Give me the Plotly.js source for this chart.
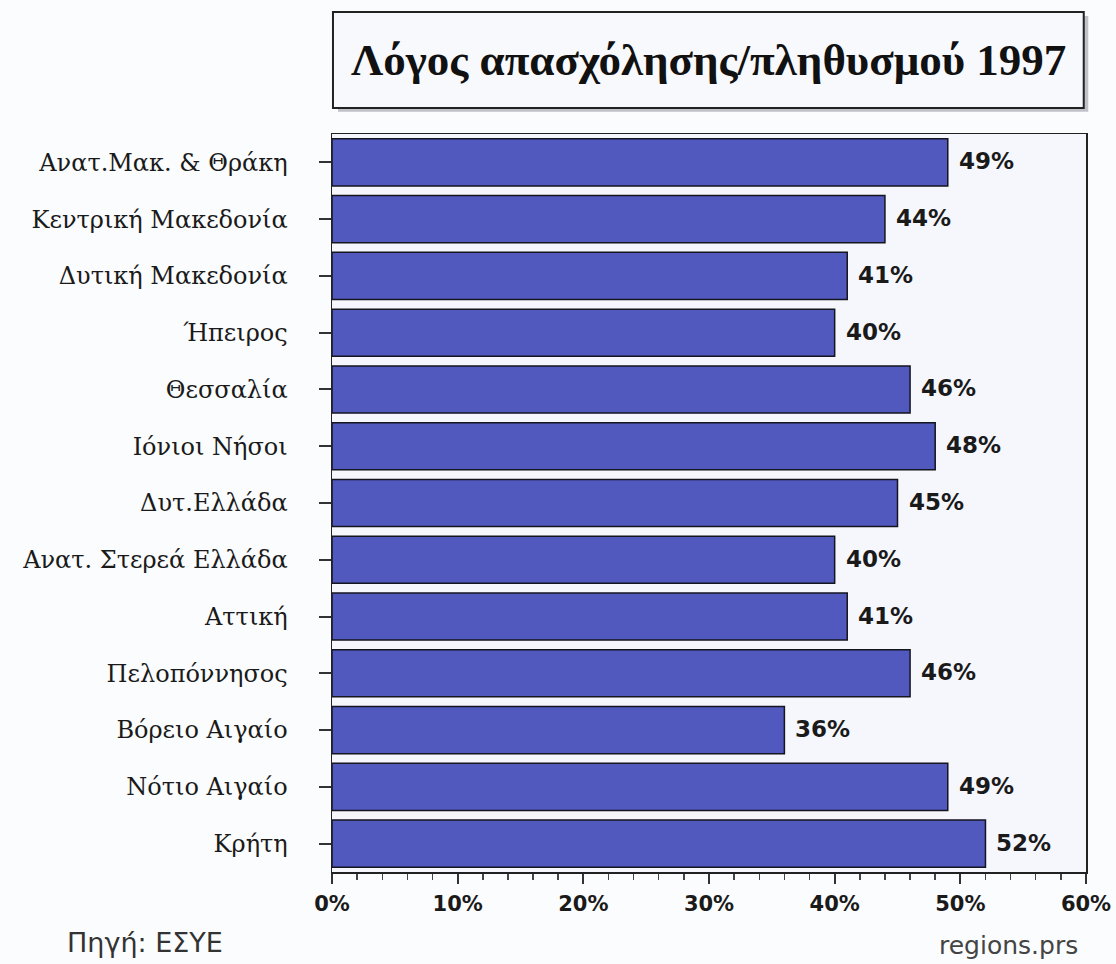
<!DOCTYPE html>
<html>
<head>
<meta charset="utf-8">
<script src="https://cdn.plot.ly/plotly-3.0.1.min.js"></script>
<style>html,body{margin:0;padding:0;background:#fbfcfd;}#chart{width:1116px;height:964px;}</style>
</head>
<body>
<div id="chart"></div>
<script>
const chartTitle = "Λόγος απασχόλησης/πληθυσμού 1997";
const regions = ["Ανατ.Μακ. & Θράκη", "Κεντρική Μακεδονία", "Δυτική Μακεδονία", "Ήπειρος", "Θεσσαλία", "Ιόνιοι Νήσοι", "Δυτ.Ελλάδα", "Ανατ. Στερεά Ελλάδα", "Αττική", "Πελοπόννησος", "Βόρειο Αιγαίο", "Νότιο Αιγαίο", "Κρήτη"];
const ratios = [49, 44, 41, 40, 46, 48, 45, 40, 41, 46, 36, 49, 52];
const xTickVals = [0, 10, 20, 30, 40, 50, 60];
const xTickText = ["0%", "10%", "20%", "30%", "40%", "50%", "60%"];
const sourceText = "Πηγή: ΕΣΥΕ";
const fileText = "regions.prs";

const trace = {
  type: "bar",
  orientation: "h",
  y: regions,
  x: ratios,
  marker: {color: "#5159bf", line: {color: "#15151f", width: 1.5}},
  hoverinfo: "skip"
};

const valueLabels = ratios.map((v, i) => ({
  x: v, y: regions[i], xref: "x", yref: "y",
  text: v + "%", showarrow: false, xanchor: "left", yanchor: "middle", xshift: 9, yshift: 1,
  font: {family: "DejaVu Sans", size: 23, color: "#1a1a1a", weight: "bold"}
}));

const layout = {
  width: 1116, height: 964,
  margin: {l: 332, r: 30, t: 134, b: 92},
  paper_bgcolor: "#fbfcfd",
  plot_bgcolor: "#f6f7fd",
  showlegend: false,
  bargap: 0.17,
  xaxis: {
    range: [0, 60], tickvals: xTickVals, ticktext: xTickText,
    showgrid: false, zeroline: false,
    showline: true, linecolor: "#222", linewidth: 1.5, mirror: true,
    ticks: "outside", ticklen: 10, tickwidth: 2, tickcolor: "#333",
    minor: {dtick: 2, ticks: "outside", ticklen: 6, tickwidth: 1.5, tickcolor: "#444"},
    ticklabelstandoff: 2,
    tickfont: {family: "DejaVu Sans", size: 21, color: "#1a1a1a", weight: "bold"},
    fixedrange: true
  },
  yaxis: {
    type: "category", autorange: "reversed",
    showgrid: false, zeroline: false,
    showline: true, linecolor: "#222", linewidth: 1.5, mirror: true,
    ticks: "outside", ticklen: 12, tickwidth: 2, tickcolor: "#333",
    ticklabelstandoff: 26,
    tickfont: {family: "DejaVu Serif", size: 24, color: "#1a1a1a"},
    fixedrange: true
  },
  shapes: [
    {type: "rect", xref: "paper", yref: "paper", x0: 0.008, x1: 1.003, y0: 1.0300, y1: 1.1600,
     fillcolor: "#bfc2c8", line: {width: 0}, layer: "below"},
    {type: "rect", xref: "paper", yref: "paper", x0: 0.0013, x1: 0.997, y0: 1.0352, y1: 1.1653,
     fillcolor: "#f8f9fd", line: {color: "#222", width: 2}, layer: "below"}
  ],
  annotations: [
    {text: chartTitle, xref: "paper", yref: "paper", x: 0.4993, y: 1.1003, xanchor: "center", yanchor: "middle",
     showarrow: false, font: {family: "Liberation Serif", size: 45, color: "#111", weight: "bold"}},
    {text: sourceText, xref: "paper", yref: "paper", x: -0.354, y: -0.0962, xanchor: "left", yanchor: "middle",
     showarrow: false, font: {family: "DejaVu Sans", size: 27, color: "#333"}},
    {text: fileText, xref: "paper", yref: "paper", x: 0.992, y: -0.099, xanchor: "right", yanchor: "middle",
     showarrow: false, font: {family: "DejaVu Sans", size: 25, color: "#444"}}
  ].concat(valueLabels)
};

Plotly.newPlot("chart", [trace], layout, {displayModeBar: false, staticPlot: true});
</script>
</body>
</html>
